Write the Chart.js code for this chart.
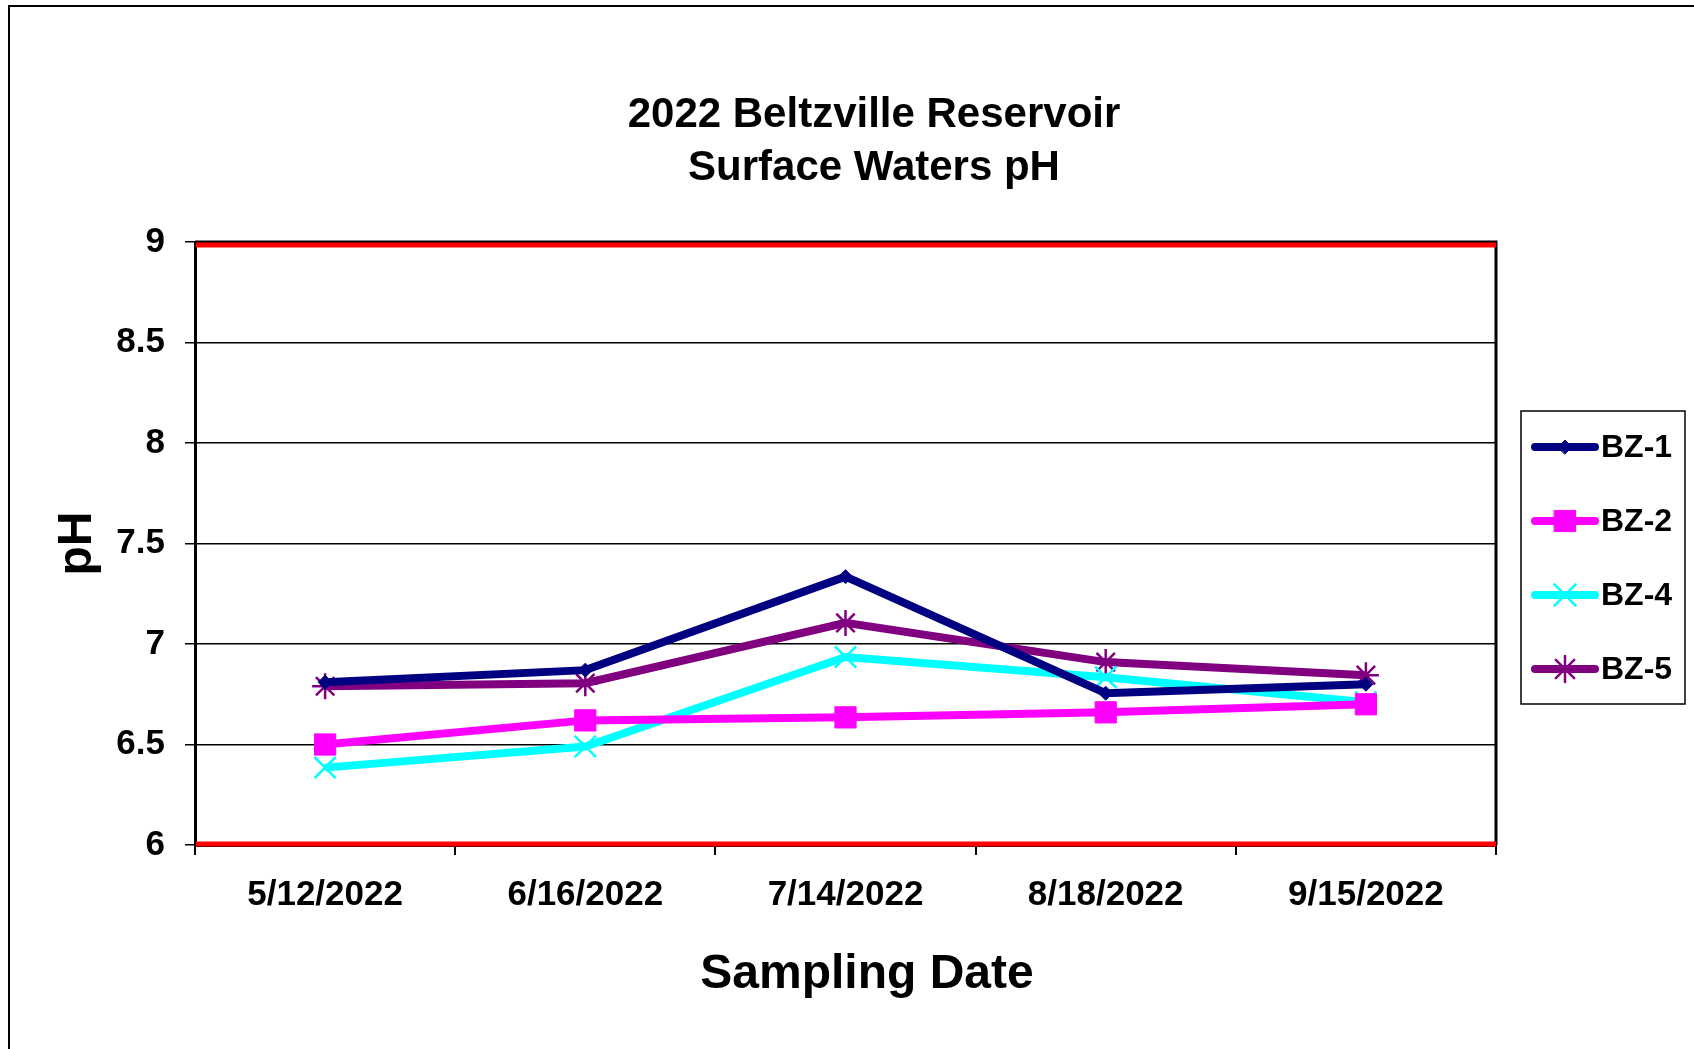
<!DOCTYPE html>
<html>
<head>
<meta charset="utf-8">
<title>2022 Beltzville Reservoir Surface Waters pH</title>
<script src="https://cdn.jsdelivr.net/npm/chart.js@4.4.0/dist/chart.umd.min.js"></script>
<style>
  html, body { margin: 0; padding: 0; background: #fff; }
  #wrap { width: 1694px; height: 1049px; position: relative; }
</style>
</head>
<body>
<div id="wrap"><canvas id="phChart"></canvas></div>
<script>
// Data
const dates = ['5/12/2022', '6/16/2022', '7/14/2022', '8/18/2022', '9/15/2022'];
const bz1 = [6.81, 6.87, 7.335, 6.755, 6.80];
const bz2 = [6.50, 6.62, 6.635, 6.66, 6.70];
const bz4 = [6.385, 6.49, 6.935, 6.835, 6.71];
const bz5 = [6.79, 6.805, 7.105, 6.91, 6.845];
const seriesNames = ['BZ-1', 'BZ-2', 'BZ-4', 'BZ-5'];
const limits = [6, 9];          // red limit lines
const yMin = 6, yMax = 9, yStep = 0.5;
const titleLines = ['2022 Beltzville Reservoir', 'Surface Waters pH'];
const xTitle = 'Sampling Date';

const FONT = "'Liberation Sans', Arial, Helvetica, sans-serif";

const styles = [
    { color: '#000080', pointStyle: 'rectRot', radius: 7, bw: 1 },
    { color: '#ff00ff', pointStyle: 'rect', radius: 15, bw: 1 },
    { color: '#00ffff', pointStyle: 'crossRot', radius: 15, bw: 2.5 },
    { color: '#800080', pointStyle: 'star', radius: 13, bw: 2.5 }
];

const datasets = [bz1, bz2, bz4, bz5].map((vals, i) => ({
    label: seriesNames[i],
    data: vals,
    borderColor: styles[i].color,
    backgroundColor: styles[i].color,
    borderWidth: 8,
    pointStyle: styles[i].pointStyle,
    pointRadius: styles[i].radius,
    pointHoverRadius: styles[i].radius,
    pointBorderWidth: styles[i].bw,
    pointBorderColor: styles[i].color,
    pointBackgroundColor: styles[i].color,
    tension: 0
}));

function drawMarker(ctx, st, x, y) {
    ctx.save();
    ctx.fillStyle = st.color;
    ctx.strokeStyle = st.color;
    ctx.lineWidth = st.bw;
    if (Chart.helpers && Chart.helpers.drawPoint) {
        Chart.helpers.drawPoint(ctx, { pointStyle: st.pointStyle, rotation: 0, radius: st.radius, borderWidth: st.bw }, x, y);
    }
    ctx.restore();
}

// outer frame, plot frame, red limit lines
const framePlugin = {
    id: 'frame',
    beforeDraw(chart) {
        const ctx = chart.ctx;
        ctx.save();
        ctx.fillStyle = '#fff';
        ctx.fillRect(0, 0, chart.width, chart.height);
        ctx.strokeStyle = '#000';
        ctx.lineWidth = 2;
        ctx.strokeRect(9, 6, 3000, 3000);
        ctx.restore();
    },
    beforeDatasetsDraw(chart) {
        const { ctx, chartArea: a, scales } = chart;
        ctx.save();
        ctx.strokeStyle = '#000';
        ctx.lineWidth = 3;
        ctx.beginPath();
        ctx.moveTo(a.left, a.top);
        ctx.lineTo(a.right, a.top);
        ctx.lineTo(a.right, a.bottom);
        ctx.stroke();
        ctx.strokeStyle = '#ff0000';
        ctx.lineWidth = 5;
        limits.forEach(v => {
            const y = scales.y.getPixelForValue(v);
            ctx.beginPath();
            ctx.moveTo(a.left + 1, y + (v === yMax ? 3 : -1));
            ctx.lineTo(a.right, y + (v === yMax ? 3 : -1));
            ctx.stroke();
        });
        ctx.restore();
    }
};

// two-line title, x axis title and boxed legend
const decorPlugin = {
    id: 'decor',
    afterDraw(chart) {
        const ctx = chart.ctx;
        ctx.save();
        ctx.fillStyle = '#000';
        ctx.textAlign = 'center';
        ctx.textBaseline = 'middle';
        ctx.font = 'bold 42px ' + FONT;
        ctx.fillText(titleLines[0], 874, 115);
        ctx.fillText(titleLines[1], 874, 168);

        ctx.font = 'bold 48px ' + FONT;
        ctx.fillText(xTitle, 867, 975);

        // legend
        const bx = 1521, by = 411, bw = 164, bh = 293;
        ctx.strokeStyle = '#000';
        ctx.lineWidth = 1.5;
        ctx.strokeRect(bx, by, bw, bh);
        ctx.font = 'bold 32px ' + FONT;
        ctx.textAlign = 'left';
        seriesNames.forEach((name, i) => {
            const y = by + 36 + i * 74;
            const st = styles[i];
            ctx.strokeStyle = st.color;
            ctx.lineWidth = 8;
            ctx.lineCap = 'round';
            ctx.beginPath();
            ctx.moveTo(1535, y);
            ctx.lineTo(1595, y);
            ctx.stroke();
            drawMarker(ctx, st, 1565, y);
            ctx.fillStyle = '#000';
            ctx.fillText(name, 1601, y + 1);
        });
        ctx.restore();
    }
};

const ctx = document.getElementById('phChart').getContext('2d');
const phChart = new Chart(ctx, {
    type: 'line',
    data: { labels: dates, datasets: datasets },
    options: {
        responsive: true,
        maintainAspectRatio: false,
        animation: false,
        devicePixelRatio: 1,
        layout: { padding: { left: 0, top: 242, right: 198, bottom: 44 } },
        plugins: {
            legend: { display: false },
            title: { display: false },
            tooltip: { enabled: false }
        },
        scales: {
            x: {
                offset: true,
                grid: { offset: true, drawOnChartArea: false, color: '#000', lineWidth: 2, tickLength: 10 },
                border: { color: '#000', width: 3 },
                ticks: { color: '#000', padding: 19, maxRotation: 0, font: { family: FONT, size: 35, weight: 'bold' } },
                afterFit(scale) { scale.height = 160; }
            },
            y: {
                min: yMin,
                max: yMax,
                ticks: {
                    stepSize: yStep, color: '#000', padding: 20,
                    font: { family: FONT, size: 35, weight: 'bold' },
                    callback: v => String(v)
                },
                grid: { color: '#000', lineWidth: 1.5, tickLength: 10 },
                border: { color: '#000', width: 3 },
                title: { display: true, text: 'pH', color: '#000', padding: { top: 49, bottom: 0 }, font: { family: FONT, size: 48, weight: 'bold' } },
                afterFit(scale) { scale.width = 195; }
            }
        }
    },
    plugins: [framePlugin, decorPlugin]
});
</script>
</body>
</html>
